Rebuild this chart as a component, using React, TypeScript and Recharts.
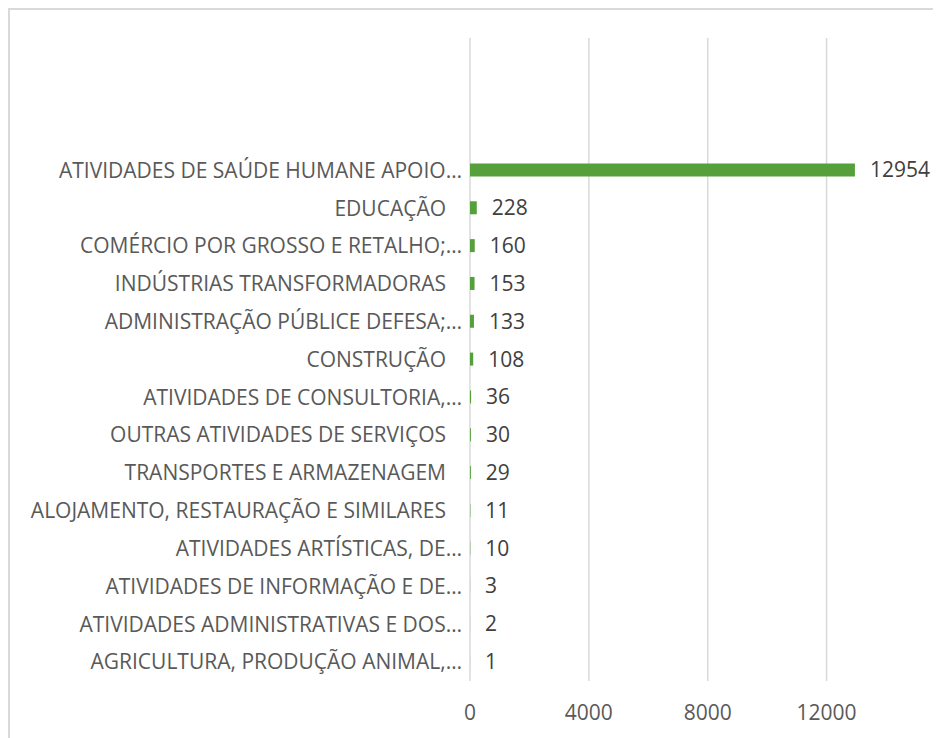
import React from 'react';
import { BarChart, Bar, XAxis, YAxis, CartesianGrid, LabelList } from 'recharts';

// three empty rows at the top, as in the source sheet
const sectors = [
  '',
  ' ',
  '  ',
  'ATIVIDADES DE SAÚDE HUMANE APOIO…',
  'EDUCAÇÃO',
  'COMÉRCIO POR GROSSO E RETALHO;…',
  'INDÚSTRIAS TRANSFORMADORAS',
  'ADMINISTRAÇÃO PÚBLICE DEFESA;…',
  'CONSTRUÇÃO',
  'ATIVIDADES DE CONSULTORIA,…',
  'OUTRAS ATIVIDADES DE SERVIÇOS',
  'TRANSPORTES E ARMAZENAGEM',
  'ALOJAMENTO, RESTAURAÇÃO E SIMILARES',
  'ATIVIDADES ARTÍSTICAS, DE…',
  'ATIVIDADES DE INFORMAÇÃO E DE…',
  'ATIVIDADES ADMINISTRATIVAS E DOS…',
  'AGRICULTURA, PRODUÇÃO ANIMAL,…',
];

const counts = [null, null, null, 12954, 228, 160, 153, 133, 108, 36, 30, 29, 11, 10, 3, 2, 1];

const xTicks = [0, 4000, 8000, 12000];

const data = sectors.map((name, i) => ({ name, value: counts[i] }));

const FONT = '"Open Sans", sans-serif';

const SectorTick = (props: any) => {
  const { x, y, payload } = props;
  const label: string = payload.value;
  if (!label.trim()) return null;
  const shift = label.endsWith('…') ? 0 : 16;
  return (
    <text
      x={x - shift}
      y={y}
      dy="0.35em"
      textAnchor="end"
      fill="#595959"
      fontSize={21}
      fontFamily={FONT}
    >
      {label}
    </text>
  );
};

export default function App() {
  return (
    <div
      style={{
        width: 933,
        height: 730,
        borderTop: '2px solid #d9d9d9',
        borderLeft: '2px solid #d9d9d9',
        background: '#fff',
      }}
    >
      <BarChart
        width={931}
        height={728}
        data={data}
        layout="vertical"
        margin={{ top: 28, right: 55, left: 0, bottom: 0 }}
        barSize={13}
      >
        <CartesianGrid
          horizontal={false}
          verticalValues={xTicks}
          stroke="#d9d9d9"
          strokeWidth={1.5}
        />
        <XAxis
          type="number"
          domain={[0, 14000]}
          ticks={xTicks}
          axisLine={false}
          tickLine={false}
          tickMargin={18}
          height={57}
          tick={{ fill: '#595959', fontSize: 21, fontFamily: FONT }}
        />
        <YAxis
          type="category"
          dataKey="name"
          width={460}
          axisLine={false}
          tickLine={false}
          tickSize={0}
          tickMargin={8}
          interval={0}
          tick={<SectorTick />}
        />
        <Bar dataKey="value" fill="#55a03b" isAnimationActive={false}>
          <LabelList
            dataKey="value"
            position="right"
            offset={15}
            fill="#404040"
            fontSize={21}
            fontFamily={FONT}
          />
        </Bar>
      </BarChart>
    </div>
  );
}
